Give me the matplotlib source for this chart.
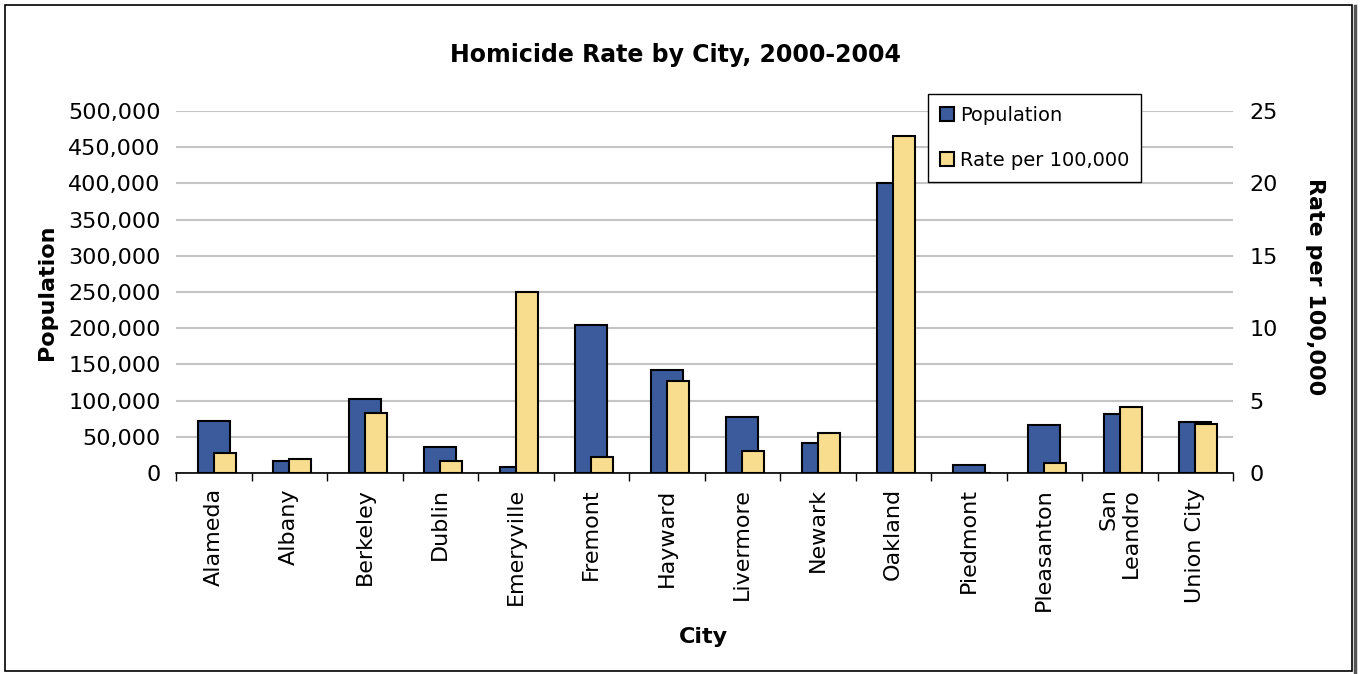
import matplotlib
matplotlib.use("Agg")
import matplotlib.pyplot as plt
from matplotlib.patches import Rectangle, Patch
from matplotlib.lines import Line2D
from matplotlib.ticker import FuncFormatter, FixedLocator
import numpy as np

cities = ["Alameda", "Albany", "Berkeley", "Dublin", "Emeryville", "Fremont",
          "Hayward", "Livermore", "Newark", "Oakland", "Piedmont", "Pleasanton",
          "San\nLeandro", "Union City"]
population = [72000, 17000, 102600, 36400, 8300, 205000, 141800, 77800,
              41900, 401000, 11000, 66300, 81000, 70000]
rate = [1.40, 0.99, 4.17, 0.85, 12.48, 1.13, 6.37, 1.54, 2.78, 23.25, 0.0,
        0.71, 4.58, 3.36]
pop_ticks = [0, 50000, 100000, 150000, 200000, 250000, 300000, 350000, 400000, 450000, 500000]
rate_ticks = [0, 5, 10, 15, 20, 25]

W, H = 1364, 674
fig = plt.figure(figsize=(W / 100, H / 100), dpi=100)
plt.rcParams['font.family'] = ['DejaVu Sans']

left, right, top, bottom = 176, 1233, 111, 473
ax = fig.add_axes([left / W, 1 - bottom / H, (right - left) / W, (bottom - top) / H])
ax2 = ax.twinx()

BLUE = "#3B5B9C"
YELLOW = "#F8DD8E"
FS = 16

x = np.arange(len(cities))
ax.bar(x, population, width=0.43, color=BLUE, edgecolor="black", linewidth=1.5, zorder=3)
ax2.bar(x, rate, width=0.29, align="edge", color=YELLOW, edgecolor="black", linewidth=1.5, zorder=3)

ax.set_xlim(-0.5, len(cities) - 0.5)
ax.set_ylim(0, 500000)
ax2.set_ylim(0, 25)

ax.yaxis.set_major_locator(FixedLocator(pop_ticks))
ax.yaxis.set_major_formatter(FuncFormatter(lambda v, p: f"{int(v):,}"))
ax2.yaxis.set_major_locator(FixedLocator(rate_ticks))
ax2.yaxis.set_major_formatter(FuncFormatter(lambda v, p: f"{int(v)}"))

ax.grid(axis="y", color="#c4c4c4", linewidth=1.5, zorder=0)
ax.set_axisbelow(True)

for a in (ax, ax2):
    for s in ("left", "right", "top"):
        a.spines[s].set_visible(False)
ax2.spines["bottom"].set_visible(False)
ax.spines["bottom"].set_linewidth(1.2)
ax.spines["bottom"].set_zorder(5)

ax.tick_params(axis="y", length=0, pad=11, labelsize=FS)
ax2.tick_params(axis="y", length=0, pad=12, labelsize=FS)

ax.set_xticks(x)
ax.set_xticklabels(cities, rotation=90, fontsize=FS, va="top", ha="center")
for lab in ax.get_xticklabels():
    lab.set_multialignment("right")
ax.set_xticks(np.arange(-0.5, len(cities)), minor=True)
ax.tick_params(axis="x", which="major", length=0, pad=11)
ax.tick_params(axis="x", which="minor", length=6, width=1.0, direction="out")

fig.text(675 / W, 1 - 55 / H, "Homicide Rate by City, 2000-2004", ha="center", va="center",
         fontsize=17, fontweight="bold")
fig.text(47 / W, 1 - 292 / H, "Population", rotation=90, ha="center", va="center",
         fontsize=FS, fontweight="bold")
fig.text(1315 / W, 1 - 287 / H, "Rate per 100,000", rotation=270, ha="center", va="center",
         fontsize=FS, fontweight="bold")
fig.text(703 / W, 1 - 637 / H, "City", ha="center", va="center", fontsize=FS, fontweight="bold")

handles = [Patch(facecolor=BLUE, edgecolor="black", linewidth=1.5),
           Patch(facecolor=YELLOW, edgecolor="black", linewidth=1.5)]
leg = ax2.legend(handles, ["Population", "Rate per 100,000"], loc="upper left",
                 bbox_to_anchor=(928 / W, 1 - 94 / H), bbox_transform=fig.transFigure,
                 fontsize=14, frameon=True, fancybox=False, edgecolor="black",
                 framealpha=1, handlelength=0.75, handleheight=0.75, handletextpad=0.3,
                 labelspacing=1.35, borderpad=0.6, borderaxespad=0)
leg.get_frame().set_linewidth(1.0)
leg.set_zorder(10)

# outer chart frame
fig.patches.append(Rectangle((5 / W, 3 / H), (1352 - 5) / W, (669 - 3) / H, transform=fig.transFigure,
                             fill=False, edgecolor="black", linewidth=1.2))
fig.lines.append(Line2D([1355 / W, 1355 / W], [2 / H, 668 / H], transform=fig.transFigure,
                        color="#555555", linewidth=2.5))

fig.savefig("out.png", dpi=100)
